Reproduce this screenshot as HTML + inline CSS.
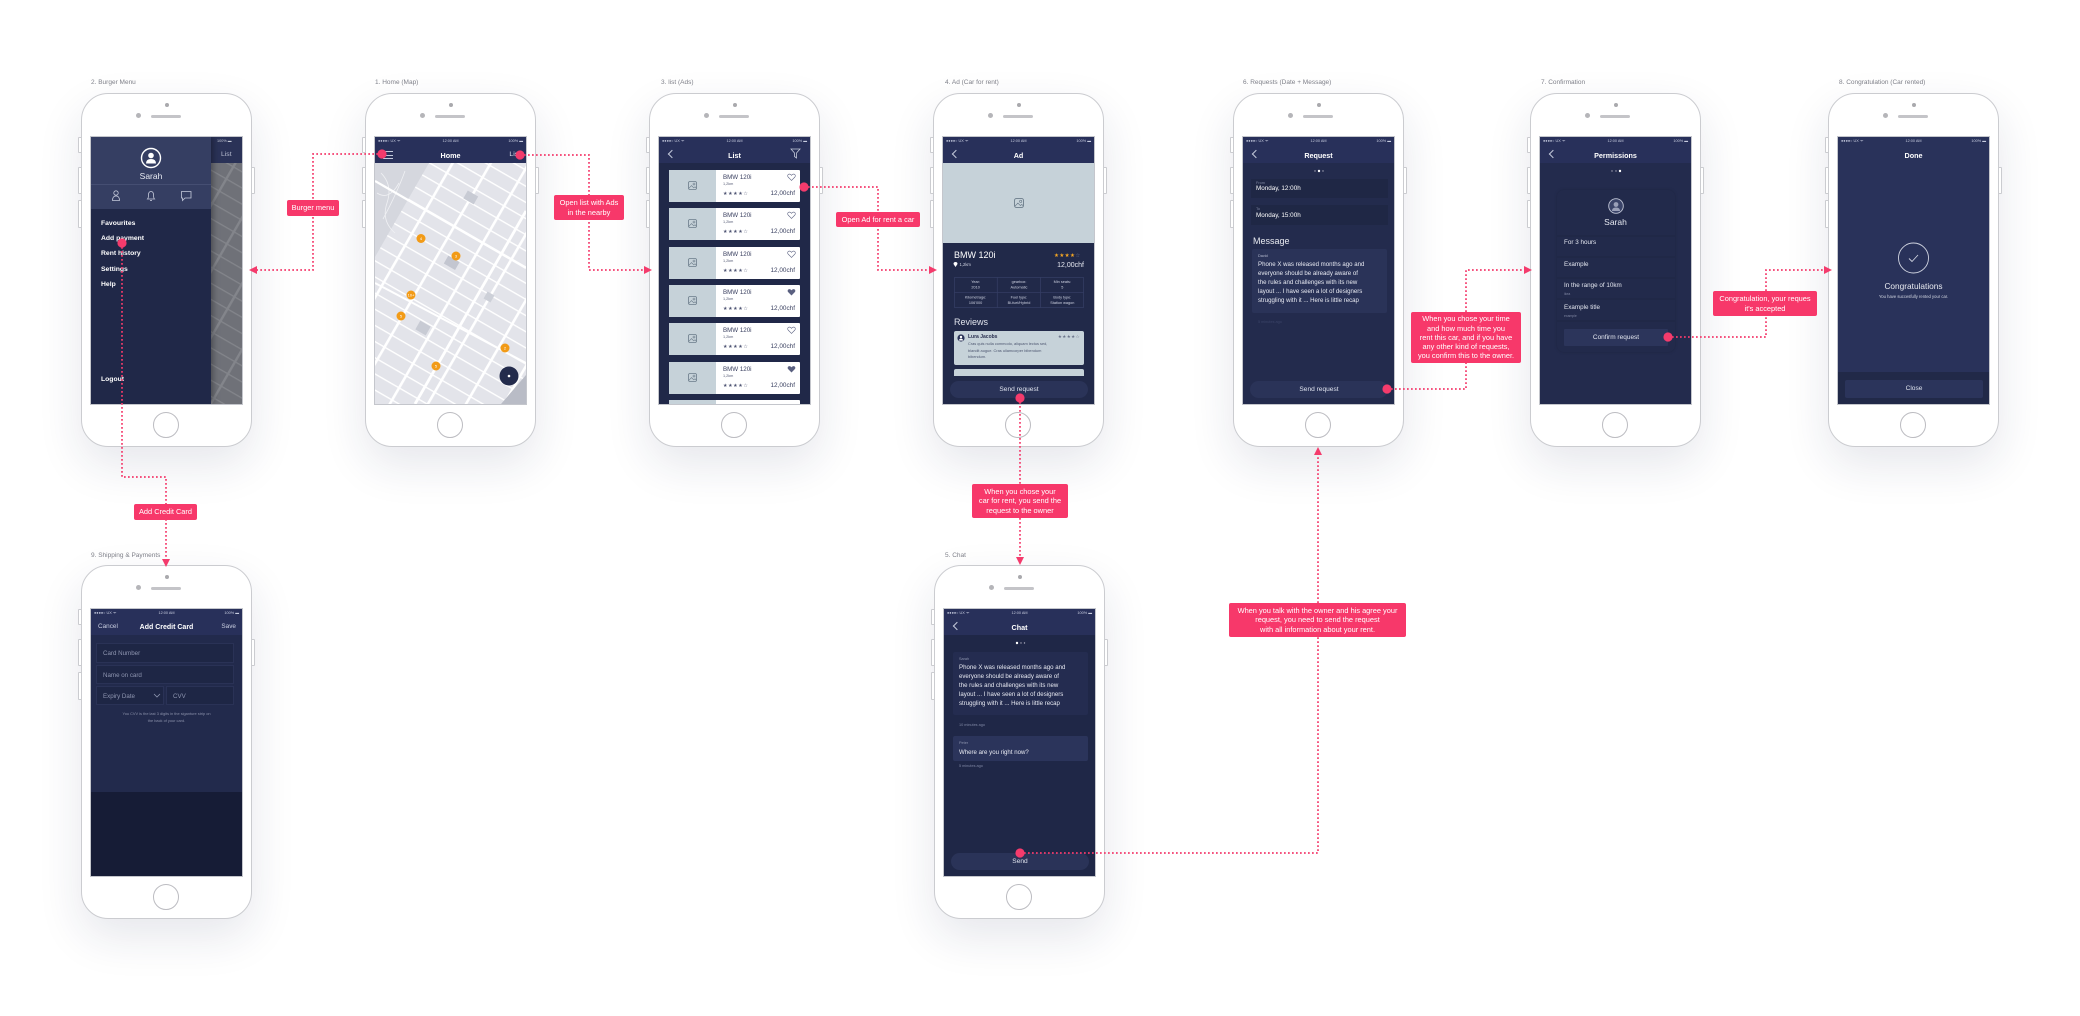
<!DOCTYPE html>
<html><head><meta charset="utf-8">
<style>
*{margin:0;padding:0}
body{width:2080px;height:1016px;overflow:hidden;background:#fff;position:relative;font-family:"Liberation Sans",Arial,sans-serif}
.a{position:absolute}
.t{position:absolute;white-space:nowrap;line-height:1}
.ph{position:absolute;width:171px;height:354px;background:#fff;border:1.3px solid #cbccd0;border-radius:27px;box-sizing:border-box;box-shadow:0 18px 45px rgba(30,40,80,.11)}
.ph .sbt{position:absolute;width:2px;background:#fff;border:1.2px solid #cbccd0;border-radius:1px}
.ph .td{position:absolute;left:83px;top:9px;width:4px;height:4px;border-radius:50%;background:#a9a9ad}
.ph .cam{position:absolute;left:54px;top:19px;width:5px;height:5px;border-radius:50%;background:#b5b5b9}
.ph .spk{position:absolute;left:69px;top:20.5px;width:30px;height:3px;border-radius:2px;background:#c4c4c8}
.ph .hm{position:absolute;left:71px;top:318px;width:24px;height:24px;border:1.4px solid #bcbcc1;border-radius:50%}
.scr{position:absolute;left:9px;top:43px;width:151px;height:267px;overflow:hidden;background:#212949;box-shadow:0 0 0 1px #c4c6cc}
.nv{position:absolute;left:0;top:0;width:151px;height:26px;background:#28305a}
.sb span{position:absolute;top:2.5px;font-size:3.8px;color:#c8cde0;line-height:1;white-space:nowrap}
.c{left:0;width:151px;text-align:center}
.tt{position:absolute;top:14.5px;left:0;width:151px;text-align:center;font-size:7.2px;font-weight:bold;color:#fff;line-height:1}
.bk{position:absolute;left:10px;top:14px;width:5px;height:5px;border-left:1px solid #c3c9da;border-bottom:1px solid #c3c9da;transform:rotate(45deg)}
.lab{position:absolute;font-size:6.5px;color:#80828b;white-space:nowrap;line-height:1}
.lb{position:absolute;background:#f7386a;color:#fff;font-size:7.4px;line-height:9.2px;text-align:center;border-radius:2px;display:flex;align-items:center;justify-content:center;white-space:nowrap;z-index:6}
.it{position:absolute;left:10px;width:131px;height:32px;background:#fff;border-radius:1px}
.it .im{position:absolute;left:0;top:0;width:47px;height:32px;background:#c6d2d9}
.it .im svg{position:absolute;left:19px;top:11px}
.it .n{left:54px;top:4.5px;font-size:6.2px;color:#3a4060}
.it .k{left:54px;top:12.5px;font-size:3.8px;color:#555b75}
.it .s{left:54px;top:21.5px;font-size:5px;color:#4d5372;letter-spacing:.6px}
.it .p{right:5px;top:21px;font-size:6.4px;color:#3a4060}
.it .h{position:absolute;right:4px;top:3px}
.btn{position:absolute;left:7px;top:244px;width:138px;height:17px;background:#2a3358;border-radius:9px;color:#dfe3ee;font-size:6.6px;text-align:center;line-height:17px}
.mt{position:absolute;left:15px;font-size:6.1px;color:#e8eaf2;white-space:nowrap;line-height:1}
.sm{position:absolute;font-size:3.8px;color:#8a90aa;white-space:nowrap;line-height:1}
.mi{position:absolute;left:10px;font-size:6.8px;font-weight:bold;color:#fff;white-space:nowrap;line-height:1}
.pr{position:absolute;left:24px;font-size:6.3px;color:#e4e7f0;white-space:nowrap;line-height:1}
.fd{position:absolute;background:#1e2645;border:.6px solid #2a3256;box-sizing:border-box}
.fd span{position:absolute;left:6px;top:6.5px;font-size:6.2px;color:#8e95b0;line-height:1;white-space:nowrap}
</style></head><body>

<svg width="0" height="0" style="position:absolute">
<defs>
<pattern id="mp" width="33" height="14" patternUnits="userSpaceOnUse" patternTransform="rotate(30)">
<rect width="33" height="14" fill="#e3e4ea"/>
<rect x="0" y="0" width="2.6" height="14" fill="#fff"/>
<rect x="0" y="0" width="33" height="1.4" fill="#fff"/>
</pattern>
<pattern id="mpd" width="33" height="14" patternUnits="userSpaceOnUse" patternTransform="rotate(30)">
<rect width="33" height="14" fill="#6f7178"/>
<rect x="0" y="0" width="2.4" height="14" fill="#83858b"/>
<rect x="0" y="0" width="33" height="1.3" fill="#83858b"/>
</pattern>
<symbol id="img" viewBox="0 0 9 9"><rect x=".5" y=".5" width="8" height="8" rx="1.5" fill="none" stroke="#6b7c8a" stroke-width=".8"/><circle cx="6" cy="3" r="1" fill="none" stroke="#6b7c8a" stroke-width=".6"/><path d="M1 7.2 L3.5 4.6 L5.8 6.8 L7 5.8 L8.3 7" fill="none" stroke="#6b7c8a" stroke-width=".6"/></symbol>
<symbol id="hrt" viewBox="0 0 24 22"><path d="M12 20.5 L3.2 11.7 C0.5 9 1 4.5 4.5 3.3 C7.5 2.3 10.5 4 12 6.5 C13.5 4 16.5 2.3 19.5 3.3 C23 4.5 23.5 9 20.8 11.7 Z" fill="none" stroke="#5a6080" stroke-width="1.6"/></symbol>
<symbol id="hrtf" viewBox="0 0 24 22"><path d="M12 20.5 L3.2 11.7 C0.5 9 1 4.5 4.5 3.3 C7.5 2.3 10.5 4 12 6.5 C13.5 4 16.5 2.3 19.5 3.3 C23 4.5 23.5 9 20.8 11.7 Z" fill="#5a6080"/></symbol>
</defs>
</svg>

<!-- phone titles -->
<div class="lab" style="left:91px;top:80px">2. Burger Menu</div>
<div class="lab" style="left:375px;top:80px">1. Home (Map)</div>
<div class="lab" style="left:661px;top:80px">3. list (Ads)</div>
<div class="lab" style="left:945px;top:80px">4. Ad (Car for rent)</div>
<div class="lab" style="left:1243px;top:80px">6. Requests (Date + Message)</div>
<div class="lab" style="left:1541px;top:80px">7. Confirmation</div>
<div class="lab" style="left:1839px;top:80px">8. Congratulation (Car rented)</div>
<div class="lab" style="left:91px;top:553px">9. Shipping &amp; Payments</div>
<div class="lab" style="left:945px;top:553px">5. Chat</div>

<!-- ============ PHONE 1 BURGER ============ -->
<div class="ph" style="left:81px;top:93px">
<i class="sbt" style="left:-4px;top:43px;height:14px"></i><i class="sbt" style="left:-4px;top:73px;height:25px"></i><i class="sbt" style="left:-4px;top:106px;height:26px"></i><i class="sbt" style="right:-4px;top:73px;height:25px"></i>
<i class="td"></i><i class="cam"></i><i class="spk"></i><i class="hm"></i>
<div class="scr" style="background:#202848">
 <svg class="a" style="left:120px;top:0" width="31" height="267"><rect width="31" height="267" fill="url(#mpd)"/><rect width="31" height="26" fill="#2a3257"/></svg>
 <span class="t" style="left:126px;top:2.5px;font-size:3.8px;color:#c5c9d6">100% ▬</span>
 <span class="t" style="left:130px;top:15px;font-size:6.8px;color:#b8bdd0">List</span>
 <div class="a" style="left:0;top:0;width:120px;height:267px;background:#202848;box-shadow:2px 0 6px rgba(0,0,0,.35)"></div>
 <div class="a" style="left:0;top:0;width:120px;height:72px;background:#353e62"></div>
 <div class="a" style="left:0;top:47px;width:120px;height:1px;background:#454e72"></div>
 <svg class="a" style="left:0;top:0" width="120" height="72">
  <circle cx="60" cy="21" r="9.5" fill="none" stroke="#fff" stroke-width="1.4"/>
  <circle cx="60" cy="18.5" r="2.8" fill="#fff"/>
  <path d="M55 26.5 Q55 22 60 22 Q65 22 65 26.5 Z" fill="#fff"/>
  <g fill="none" stroke="#c5cadb" stroke-width=".8">
   <circle cx="25" cy="56" r="2.2"/><path d="M21.5 63.5 Q21.5 59 25 59 Q28.5 59 28.5 63.5 Z"/>
   <path d="M56.5 62 Q57.5 61 57.5 58 Q57.5 54.5 60 54.5 Q62.5 54.5 62.5 58 Q62.5 61 63.5 62 Z"/><path d="M59 63.5 H61"/>
   <path d="M90.5 54.5 H100 V61 H94 L91.5 63.5 V61 H90.5 Z"/>
  </g>
 </svg>
 <div class="t c" style="width:120px;top:35px;font-size:8.5px;color:#e8eaf2">Sarah</div>
 <div class="mi" style="top:83.5px">Favourites</div>
 <div class="mi" style="top:98.5px">Add payment</div>
 <div class="mi" style="top:114px">Rent history</div>
 <div class="mi" style="top:129.5px">Settings</div>
 <div class="mi" style="top:144.5px">Help</div>
 <div class="mi" style="top:239.5px">Logout</div>
</div></div>

<!-- ============ PHONE 2 MAP ============ -->
<div class="ph" style="left:365px;top:93px">
<i class="sbt" style="left:-4px;top:43px;height:14px"></i><i class="sbt" style="left:-4px;top:73px;height:25px"></i><i class="sbt" style="left:-4px;top:106px;height:26px"></i><i class="sbt" style="right:-4px;top:73px;height:25px"></i>
<i class="td"></i><i class="cam"></i><i class="spk"></i><i class="hm"></i>
<div class="scr">
 <svg class="a" style="left:0;top:26px" width="151" height="241">
  <rect width="151" height="241" fill="url(#mp)"/>
  <path d="M0 0 H54 L0 94 Z" fill="#d5d7de"/>
  <path d="M6 10 Q18 22 12 40 T20 70 M2 30 Q14 38 24 20 M30 8 Q22 30 8 56" fill="none" stroke="#f0f1f4" stroke-width=".8"/>
  <path d="M0 18 L151 105" stroke="#fff" stroke-width="2.2"/>
  <path d="M40 241 L151 48" stroke="#fff" stroke-width="2.8"/>
  <path d="M0 120 L151 200" stroke="#fff" stroke-width="2"/>
  <rect x="90" y="30" width="12" height="9" fill="#c8cbd4" transform="rotate(30 96 34)"/>
  <rect x="70" y="95" width="13" height="9" fill="#c3c6d0" transform="rotate(30 76 100)"/>
  <rect x="42" y="160" width="12" height="10" fill="#c8cbd4" transform="rotate(30 48 165)"/>
  <rect x="110" y="130" width="8" height="8" fill="#cdd0d8" transform="rotate(30 114 134)"/>
  <path d="M151 212 L151 241 L126 241 Z" fill="#b9bcc6"/>
  <g fill="#f29b17"><circle cx="46" cy="75.5" r="4.5"/><circle cx="81" cy="93" r="4.5"/><circle cx="36" cy="132" r="4.5"/><circle cx="26" cy="153" r="4.5"/><circle cx="130" cy="185" r="4.5"/><circle cx="61" cy="203" r="4.5"/></g>
  <g fill="#fff" font-size="4" font-family="Liberation Sans" text-anchor="middle"><text x="46" y="77">4</text><text x="81" y="94.5">3</text><text x="36" y="133.5">10+</text><text x="26" y="154.5">5</text><text x="130" y="186.5">2</text><text x="61" y="204.5">5</text></g>
  <circle cx="134" cy="213" r="9.5" fill="#232b4c"/><circle cx="134" cy="213" r="1.3" fill="#fff"/>
 </svg>
 <div class="nv"></div>
 <div class="sb"><span style="left:3px">●●●●○ UX ᯤ</span><span class="c">12:00 AM</span><span style="right:3px">100% ▬</span></div>
 <div class="a" style="left:8px;top:14px;width:10px;height:1px;background:#c3c9da"></div>
 <div class="a" style="left:8px;top:17.5px;width:10px;height:1px;background:#c3c9da"></div>
 <div class="a" style="left:8px;top:21px;width:10px;height:1px;background:#c3c9da"></div>
 <div class="tt">Home</div>
 <span class="t" style="right:6px;top:15px;font-size:6.8px;color:#dfe3ee">List</span>
</div></div>

<!-- ============ PHONE 3 LIST ============ -->
<div class="ph" style="left:649px;top:93px">
<i class="sbt" style="left:-4px;top:43px;height:14px"></i><i class="sbt" style="left:-4px;top:73px;height:25px"></i><i class="sbt" style="left:-4px;top:106px;height:26px"></i><i class="sbt" style="right:-4px;top:73px;height:25px"></i>
<i class="td"></i><i class="cam"></i><i class="spk"></i><i class="hm"></i>
<div class="scr" style="background:#202848">
 <div class="nv"></div>
 <div class="sb"><span style="left:3px">●●●●○ UX ᯤ</span><span class="c">12:00 AM</span><span style="right:3px">100% ▬</span></div>
 <i class="bk"></i>
 <div class="tt">List</div>
 <svg class="a" style="left:131px;top:11px" width="11" height="11"><path d="M1 1 H10 L6.5 5 V10 L4.5 8.5 V5 Z" fill="none" stroke="#c3c9da" stroke-width=".8"/></svg>
 <div class="it" style="top:33px"><div class="im"><svg width="9" height="9"><use href="#img"/></svg></div><span class="t n">BMW 120i</span><span class="t k">1,2km</span><span class="t s">★★★★☆</span><span class="t p">12,00chf</span><svg class="h" width="9" height="8"><use href="#hrt"/></svg></div>
 <div class="it" style="top:71px"><div class="im"><svg width="9" height="9"><use href="#img"/></svg></div><span class="t n">BMW 120i</span><span class="t k">1,2km</span><span class="t s">★★★★☆</span><span class="t p">12,00chf</span><svg class="h" width="9" height="8"><use href="#hrt"/></svg></div>
 <div class="it" style="top:110px"><div class="im"><svg width="9" height="9"><use href="#img"/></svg></div><span class="t n">BMW 120i</span><span class="t k">1,2km</span><span class="t s">★★★★☆</span><span class="t p">12,00chf</span><svg class="h" width="9" height="8"><use href="#hrt"/></svg></div>
 <div class="it" style="top:148px"><div class="im"><svg width="9" height="9"><use href="#img"/></svg></div><span class="t n">BMW 120i</span><span class="t k">1,2km</span><span class="t s">★★★★☆</span><span class="t p">12,00chf</span><svg class="h" width="9" height="8"><use href="#hrtf"/></svg></div>
 <div class="it" style="top:186px"><div class="im"><svg width="9" height="9"><use href="#img"/></svg></div><span class="t n">BMW 120i</span><span class="t k">1,2km</span><span class="t s">★★★★☆</span><span class="t p">12,00chf</span><svg class="h" width="9" height="8"><use href="#hrt"/></svg></div>
 <div class="it" style="top:225px"><div class="im"><svg width="9" height="9"><use href="#img"/></svg></div><span class="t n">BMW 120i</span><span class="t k">1,2km</span><span class="t s">★★★★☆</span><span class="t p">12,00chf</span><svg class="h" width="9" height="8"><use href="#hrtf"/></svg></div>
 <div class="it" style="top:263px"><div class="im"></div></div>
</div></div>

<!-- ============ PHONE 4 AD ============ -->
<div class="ph" style="left:933px;top:93px">
<i class="sbt" style="left:-4px;top:43px;height:14px"></i><i class="sbt" style="left:-4px;top:73px;height:25px"></i><i class="sbt" style="left:-4px;top:106px;height:26px"></i><i class="sbt" style="right:-4px;top:73px;height:25px"></i>
<i class="td"></i><i class="cam"></i><i class="spk"></i><i class="hm"></i>
<div class="scr" style="background:#212949">
 <div class="nv"></div>
 <div class="sb"><span style="left:3px">●●●●○ UX ᯤ</span><span class="c">12:00 AM</span><span style="right:3px">100% ▬</span></div>
 <i class="bk"></i>
 <div class="tt">Ad</div>
 <div class="a" style="left:0;top:26px;width:151px;height:80px;background:#c6d2d9"></div>
 <svg class="a" style="left:71px;top:61px" width="10" height="10"><use href="#img"/></svg>
 <span class="t" style="left:11px;top:113.5px;font-size:9px;color:#fff">BMW 120i</span>
 <span class="t" style="left:111px;top:116.5px;font-size:5.5px;color:#f5a623;letter-spacing:.4px">★★★★<span style="color:#6c7390">☆</span></span>
 <svg class="a" style="left:10px;top:124px" width="5" height="6"><path d="M2.5 6 L0.5 3 A2 2 0 1 1 4.5 3 Z" fill="#fff"/></svg>
 <span class="t" style="left:16.5px;top:125.5px;font-size:4.2px;color:#d0d4e2">1,2km</span>
 <span class="t" style="right:10px;top:124.5px;font-size:7px;color:#e8eaf2">12,00chf</span>
 <svg class="a" style="left:11px;top:140px" width="130" height="31">
  <rect x=".5" y=".5" width="129" height="30" fill="none" stroke="#343d63" stroke-width=".8"/>
  <path d="M43.3 0 V31 M86.6 0 V31 M0 15.5 H130" stroke="#343d63" stroke-width=".8"/>
  <g fill="#cfd3e2" font-size="3.8" font-family="Liberation Sans" text-anchor="middle">
   <text x="21.6" y="6">Year:</text><text x="21.6" y="11.5">2010</text>
   <text x="65" y="6">gearbox:</text><text x="65" y="11.5">Automatic</text>
   <text x="108.3" y="6">Min seats:</text><text x="108.3" y="11.5">5</text>
   <text x="21.6" y="21.5">Kilometrage:</text><text x="21.6" y="27">106'000</text>
   <text x="65" y="21.5">Fuel type:</text><text x="65" y="27">Bi-fuel/Hybrid</text>
   <text x="108.3" y="21.5">Body type:</text><text x="108.3" y="27">Station wagon</text>
  </g>
 </svg>
 <span class="t" style="left:11px;top:180.5px;font-size:9px;color:#e0e3ec">Reviews</span>
 <div class="a" style="left:11px;top:194px;width:130px;height:34px;background:#c6d2d9;border-radius:2px">
  <svg class="a" style="left:3px;top:3px" width="8" height="8"><circle cx="4" cy="4" r="3.6" fill="#2a3358"/><circle cx="4" cy="3" r="1.2" fill="#fff"/><path d="M2 6.5 Q2 4.6 4 4.6 Q6 4.6 6 6.5Z" fill="#fff"/></svg>
  <span class="t" style="left:14px;top:4px;font-size:5px;font-weight:bold;color:#2a3050">Lura Jacobs</span>
  <span class="t" style="right:4px;top:4px;font-size:4.5px;color:#6a738a;letter-spacing:.4px">★★★★☆</span>
  <span class="t" style="left:14px;top:11px;font-size:3.9px;color:#4d5670">Cras quis nulla commodo, aliquam lectus sed,</span>
  <span class="t" style="left:14px;top:17.5px;font-size:3.9px;color:#4d5670">blandit augue. Cras ullamcorper bibendum</span>
  <span class="t" style="left:14px;top:24px;font-size:3.9px;color:#4d5670">bibendum.</span>
 </div>
 <div class="a" style="left:11px;top:232px;width:130px;height:7px;background:#c6d2d9;border-radius:2px 2px 0 0"></div>
 <div class="a" style="left:0;top:239px;width:151px;height:28px;background:#212949"></div>
 <div class="btn">Send request</div>
</div></div>

<!-- ============ PHONE 6 REQUEST ============ -->
<div class="ph" style="left:1233px;top:93px">
<i class="sbt" style="left:-4px;top:43px;height:14px"></i><i class="sbt" style="left:-4px;top:73px;height:25px"></i><i class="sbt" style="left:-4px;top:106px;height:26px"></i><i class="sbt" style="right:-4px;top:73px;height:25px"></i>
<i class="td"></i><i class="cam"></i><i class="spk"></i><i class="hm"></i>
<div class="scr" style="background:#232b4d">
 <div class="nv"></div>
 <div class="sb"><span style="left:3px">●●●●○ UX ᯤ</span><span class="c">12:00 AM</span><span style="right:3px">100% ▬</span></div>
 <i class="bk"></i>
 <div class="tt">Request</div>
 <svg class="a" style="left:69px;top:32px" width="14" height="4"><circle cx="3" cy="2" r=".7" fill="#aab"/><circle cx="7" cy="2" r="1.2" fill="#fff"/><circle cx="11" cy="2" r=".7" fill="#aab"/></svg>
 <div class="a" style="left:8px;top:42px;width:137px;height:19px;background:#1f2745"></div>
 <span class="sm" style="left:13px;top:44.5px;color:#7f86a2">From</span>
 <span class="t" style="left:13px;top:49px;font-size:6.3px;color:#fff">Monday, 12:00h</span>
 <div class="a" style="left:8px;top:68px;width:137px;height:20px;background:#1f2745"></div>
 <span class="sm" style="left:13px;top:70.5px;color:#7f86a2">To</span>
 <span class="t" style="left:13px;top:75.5px;font-size:6.3px;color:#fff">Monday, 15:00h</span>
 <span class="t" style="left:10px;top:99.5px;font-size:9px;color:#e8eaf0">Message</span>
 <div class="a" style="left:9px;top:112px;width:135px;height:64px;background:#2a3358;border-radius:2px"></div>
 <span class="sm" style="left:15px;top:117.5px;color:#b8bed2">David</span>
 <span class="mt" style="top:124.5px">Phone X was released months ago and</span>
 <span class="mt" style="top:133.5px">everyone should be already aware of</span>
 <span class="mt" style="top:142.5px">the rules and challenges with its new</span>
 <span class="mt" style="top:151.5px">layout ... I have seen a lot of designers</span>
 <span class="mt" style="top:160.5px">struggling with it ... Here is little recap</span>
 <span class="sm" style="left:15px;top:184px;color:#3c4569">5 minutes ago</span>
 <div class="btn">Send request</div>
</div></div>

<!-- ============ PHONE 7 PERMISSIONS ============ -->
<div class="ph" style="left:1530px;top:93px">
<i class="sbt" style="left:-4px;top:43px;height:14px"></i><i class="sbt" style="left:-4px;top:73px;height:25px"></i><i class="sbt" style="left:-4px;top:106px;height:26px"></i><i class="sbt" style="right:-4px;top:73px;height:25px"></i>
<i class="td"></i><i class="cam"></i><i class="spk"></i><i class="hm"></i>
<div class="scr" style="background:#232b4d">
 <div class="nv"></div>
 <div class="sb"><span style="left:3px">●●●●○ UX ᯤ</span><span class="c">12:00 AM</span><span style="right:3px">100% ▬</span></div>
 <i class="bk"></i>
 <div class="tt">Permissions</div>
 <svg class="a" style="left:69px;top:32px" width="14" height="4"><circle cx="3" cy="2" r=".7" fill="#aab"/><circle cx="7" cy="2" r=".7" fill="#aab"/><circle cx="11" cy="2" r="1.2" fill="#fff"/></svg>
 <div class="a" style="left:17px;top:53px;width:118px;height:162px;background:#222a4b;border-radius:7px;box-shadow:0 0 3px rgba(0,0,0,.15)"></div>
 <svg class="a" style="left:17px;top:53px" width="118" height="162">
  <circle cx="59" cy="16" r="7.3" fill="#3a4368" stroke="#c0c5d5" stroke-width=".9"/>
  <circle cx="59" cy="14.5" r="2.4" fill="#9aa0b8"/><path d="M55 21 Q55 17.5 59 17.5 Q63 17.5 63 21Z" fill="#9aa0b8"/>
  <g stroke="#1d2442" stroke-width=".8"><path d="M0 46 H118 M0 67 H118 M0 88 H118 M0 109 H118 M0 131 H118"/></g>
 </svg>
 <div class="t c" style="top:81px;font-size:8.5px;color:#e8eaf2">Sarah</div>
 <span class="pr" style="top:103px">For 3 hours</span>
 <span class="pr" style="top:125px">Example</span>
 <span class="pr" style="top:146px">In the range of 10km</span>
 <span class="sm" style="left:24px;top:155.5px;font-size:3.4px;color:#7d84a0">ikea</span>
 <span class="pr" style="top:168px">Example title</span>
 <span class="sm" style="left:24px;top:177.5px;font-size:3.4px;color:#7d84a0">example</span>
 <div class="a" style="left:24px;top:192px;width:104px;height:17px;background:#2c355b;border-radius:1px;color:#e4e7f0;font-size:6.5px;text-align:center;line-height:17px">Confirm request</div>
</div></div>

<!-- ============ PHONE 8 DONE ============ -->
<div class="ph" style="left:1828px;top:93px">
<i class="sbt" style="left:-4px;top:43px;height:14px"></i><i class="sbt" style="left:-4px;top:73px;height:25px"></i><i class="sbt" style="left:-4px;top:106px;height:26px"></i><i class="sbt" style="right:-4px;top:73px;height:25px"></i>
<i class="td"></i><i class="cam"></i><i class="spk"></i><i class="hm"></i>
<div class="scr" style="background:#29325a">
 <div class="sb"><span style="left:3px">●●●●○ UX ᯤ</span><span class="c">12:00 AM</span><span style="right:3px">100% ▬</span></div>
 <div class="tt">Done</div>
 <svg class="a" style="left:0;top:100px" width="151" height="42"><circle cx="75.5" cy="21" r="15" fill="none" stroke="#d0d4e0" stroke-width=".9"/><path d="M71 21.5 L74 24.5 L80 18" fill="none" stroke="#d0d4e0" stroke-width=".9"/></svg>
 <div class="t c" style="top:144.5px;font-size:8.3px;color:#e8eaf0">Congratulations</div>
 <div class="t c" style="top:158px;font-size:4.2px;color:#d2d6e2">You have succesfully rented your car.</div>
 <div class="a" style="left:0;top:235px;width:151px;height:32px;background:#212948"></div>
 <div class="a" style="left:7px;top:243px;width:138px;height:18px;background:#2b345b;border-radius:2px;color:#dfe3ee;font-size:6.6px;text-align:center;line-height:18px">Close</div>
</div></div>

<!-- ============ PHONE 9 PAYMENT ============ -->
<div class="ph" style="left:81px;top:565px">
<i class="sbt" style="left:-4px;top:43px;height:14px"></i><i class="sbt" style="left:-4px;top:73px;height:25px"></i><i class="sbt" style="left:-4px;top:106px;height:26px"></i><i class="sbt" style="right:-4px;top:73px;height:25px"></i>
<i class="td"></i><i class="cam"></i><i class="spk"></i><i class="hm"></i>
<div class="scr" style="background:#161c36">
 <div class="a" style="left:0;top:0;width:151px;height:183px;background:#222a4c"></div>
 <div class="nv"></div>
 <div class="sb"><span style="left:3px">●●●●○ UX ᯤ</span><span class="c">12:00 AM</span><span style="right:3px">100% ▬</span></div>
 <span class="t" style="left:7px;top:15px;font-size:6.4px;color:#c9cee0">Cancel</span>
 <div class="tt" style="font-size:7px">Add Credit Card</div>
 <span class="t" style="right:6px;top:15px;font-size:6.4px;color:#c9cee0">Save</span>
 <div class="fd" style="left:5px;top:34px;width:138px;height:20px"><span>Card Number</span></div>
 <div class="fd" style="left:5px;top:56px;width:138px;height:19px"><span>Name on card</span></div>
 <div class="fd" style="left:5px;top:77px;width:68px;height:19px"><span>Expiry Date</span></div>
 <svg class="a" style="left:62px;top:84px" width="8" height="5"><path d="M1 1 L4 4 L7 1" fill="none" stroke="#8e95b0" stroke-width=".8"/></svg>
 <div class="fd" style="left:75px;top:77px;width:68px;height:19px"><span>CVV</span></div>
 <div class="t c" style="top:103px;font-size:3.9px;color:#8a90aa">You CVV is the last 3 digits in the siganture strip on</div>
 <div class="t c" style="top:110px;font-size:3.9px;color:#8a90aa">the back of your card.</div>
</div></div>

<!-- ============ PHONE 5 CHAT ============ -->
<div class="ph" style="left:934px;top:565px">
<i class="sbt" style="left:-4px;top:43px;height:14px"></i><i class="sbt" style="left:-4px;top:73px;height:25px"></i><i class="sbt" style="left:-4px;top:106px;height:26px"></i><i class="sbt" style="right:-4px;top:73px;height:25px"></i>
<i class="td"></i><i class="cam"></i><i class="spk"></i><i class="hm"></i>
<div class="scr" style="background:#1f2747">
 <div class="nv"></div>
 <div class="sb"><span style="left:3px">●●●●○ UX ᯤ</span><span class="c">12:00 AM</span><span style="right:3px">100% ▬</span></div>
 <i class="bk"></i>
 <div class="tt">Chat</div>
 <svg class="a" style="left:69px;top:32px" width="14" height="4"><circle cx="4" cy="2" r="1.2" fill="#fff"/><circle cx="8" cy="2" r=".7" fill="#aab"/><circle cx="11.5" cy="2" r=".7" fill="#aab"/></svg>
 <div class="a" style="left:9px;top:43px;width:135px;height:63px;background:#242c50;border-radius:2px"></div>
 <span class="sm" style="left:15px;top:49px;color:#8d94ae">Sarah</span>
 <span class="mt" style="top:55.5px">Phone X was released months ago and</span>
 <span class="mt" style="top:64.5px">everyone should be already aware of</span>
 <span class="mt" style="top:73.5px">the rules and challenges with its new</span>
 <span class="mt" style="top:82.5px">layout ... I have seen a lot of designers</span>
 <span class="mt" style="top:91.5px">struggling with it ... Here is little recap</span>
 <span class="sm" style="left:15px;top:115px;color:#8088a5">10 minutes ago</span>
 <div class="a" style="left:9px;top:127px;width:135px;height:25px;background:#2b345b;border-radius:2px"></div>
 <span class="sm" style="left:15px;top:133px;color:#8d94ae">Peter</span>
 <span class="mt" style="top:141px">Where are you right now?</span>
 <span class="sm" style="left:15px;top:156px;color:#8088a5">5 minutes ago</span>
 <div class="btn">Send</div>
</div></div>

<!-- ============ CONNECTORS ============ -->
<svg class="a" style="left:0;top:0;z-index:5" width="2080" height="1016">
<g fill="none" stroke="#f43b6c" stroke-width="1.7" stroke-dasharray="1.7 2.3">
<path d="M382 154H313V270H257"/>
<path d="M122 243V477H166V559"/>
<path d="M520 155H589V270H645"/>
<path d="M804 187H878V270H930"/>
<path d="M1020 398V558"/>
<path d="M1020 853H1318V454"/>
<path d="M1387 389H1466V270H1525"/>
<path d="M1668 337H1766V270H1825"/>
</g>
<g fill="#f43b6c">
<circle cx="382" cy="154" r="4.6"/><circle cx="122" cy="243" r="4.6"/><circle cx="520" cy="155" r="4.6"/><circle cx="804" cy="187" r="4.6"/>
<circle cx="1020" cy="398" r="4.6"/><circle cx="1020" cy="853" r="4.6"/><circle cx="1387" cy="389" r="4.6"/><circle cx="1668" cy="337" r="4.6"/>
<path d="M249 270 L257 266 L257 274Z"/>
<path d="M166 567 L162 559 L170 559Z"/>
<path d="M652 270 L644 266 L644 274Z"/>
<path d="M937 270 L929 266 L929 274Z"/>
<path d="M1020 565 L1016 557 L1024 557Z"/>
<path d="M1318 447 L1314 455 L1322 455Z"/>
<path d="M1532 270 L1524 266 L1524 274Z"/>
<path d="M1832 270 L1824 266 L1824 274Z"/>
</g>
</svg>

<!-- ============ LABELS ============ -->
<div class="lb" style="left:287px;top:200px;width:52px;height:16px">Burger menu</div>
<div class="lb" style="left:554px;top:195px;width:70px;height:25px">Open list with Ads<br>in the nearby</div>
<div class="lb" style="left:836px;top:212px;width:84px;height:15px">Open Ad for rent a car</div>
<div class="lb" style="left:972px;top:484px;width:96px;height:34px">When you chose your<br>car for rent, you send the<br>request to the owner</div>
<div class="lb" style="left:1229px;top:603px;width:177px;height:34px">When you talk with the owner and his agree your<br>request, you need to send the request<br>with all information about your rent.</div>
<div class="lb" style="left:1411px;top:312px;width:110px;height:51px">When you chose your time<br>and how much time you<br>rent this car, and if you have<br>any other kind of requests,<br>you confirm this to the owner.</div>
<div class="lb" style="left:1713px;top:291px;width:104px;height:25px">Congratulation, your reques<br>it's accepted</div>
<div class="lb" style="left:134px;top:504px;width:63px;height:16px">Add Credit Card</div>

</body></html>
